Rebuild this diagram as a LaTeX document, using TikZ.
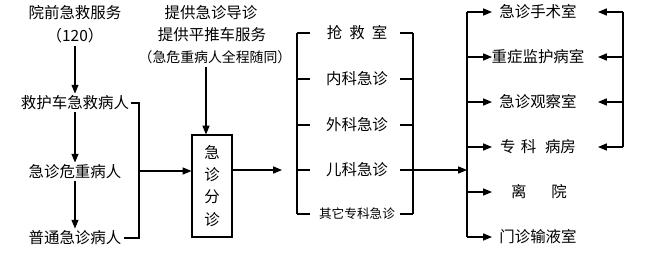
\documentclass[tikz,border=0pt]{standalone}
\usepackage{fontspec}
\newfontfamily\cjk{Noto Sans CJK SC}
\usepackage{tikz}
\usetikzlibrary{arrows.meta,positioning,calc}

\begin{document}
\begin{tikzpicture}[x=0.02cm,y=-0.02cm,line width=0.6pt,
  t/.style={font=\cjk\fontsize{8.8}{10}\selectfont,inner sep=1pt},
  ts/.style={font=\cjk\fontsize{7.2}{9}\selectfont,inner sep=1pt},
  box/.style={draw,minimum width=0.8cm,minimum height=2.04cm,align=center,
    font=\cjk\fontsize{8.8}{12.6}\selectfont},
  arr/.style={-{Triangle[length=5pt,width=4pt]}}]
\useasboundingbox (0,0) rectangle (650,271);
% pre-hospital column
\node[t] (qj) at (75,13) {院前急救服务};
\node[t] (n120) at (75,36) {（120）};
\node[t] (jhc) at (75,103) {救护车急救病人};
\node[t] (wz) at (75,172) {急诊危重病人};
\node[t] (pt) at (75,238) {普通急诊病人};
\draw[arr] (n120.south) -- (jhc.north);
\draw[arr] (jhc.south) -- (wz.north);
\draw[arr] (wz.south) -- (pt.north);
\coordinate (jn) at (139,171);
\draw (jhc.east) -- (jhc.east -| jn) -- (pt.east -| jn) -- (pt.east);
% triage
\node[t] (tg1) at (211,13) {提供急诊导诊};
\node[t] (tg2) at (212,35) {提供平推车服务};
\node[ts,font=\cjk\fontsize{7.9}{9}\selectfont] (tg3) at (215,57) {（急危重病人全程随同）};
\node[box] (fz) at (212,186) {急\\诊\\分\\诊};
\coordinate (a1) at (206,67);
\draw[arr] (a1) -- (a1 |- fz.north);
\draw[arr] (jn) -- (jn -| fz.west);
% departments
\node[t] (r1) at (357,33) {抢\hspace{4pt}救\hspace{4pt}室};
\node[t] (r2) at (357,79) {内科急诊};
\node[t] (r3) at (357,125) {外科急诊};
\node[t] (r4) at (357,170) {儿科急诊};
\node[ts] (r5) at (357,214) {其它专科急诊};
\coordinate (bl) at (297,33);
\coordinate (br) at (413,33);
\coordinate (bk) at (282,170);
\draw[arr] (fz.east |- bk) -- (bk);
\draw (r1 -| bl) -- (r5 -| bl);
\draw (r1 -| br) -- (r5 -| br);
\foreach \r in {r1,r2,r3,r4,r5} {
  \draw (\r -| bl) -- ++(13,0);
  \draw (\r -| br) -- ++(-13,0);
}
% destinations
\node[t] (d1) at (538,12) {急诊手术室};
\node[t] (d2) at (538,57) {重症监护病室};
\node[t] (d3) at (538,102) {急诊观察室};
\node[t] (d4) at (538,147) {专\hspace{3pt}科\hspace{5pt}病房};
\node[t] (d5) at (539,192) {离\hspace{14pt}院};
\node[t] (d6) at (538,237) {门诊输液室};
\coordinate (dl) at (467,170);
\draw[arr] (r4 -| br) -- (dl);
\draw (d1 -| dl) -- (d6 -| dl);
\foreach \d in {d1,d2,d3,d4,d5,d6}
  \draw[arr] (\d -| dl) -- ++(25,0);
\coordinate (fb) at (623,12);
\draw (d1 -| fb) -- (d4 -| fb);
\foreach \d in {d1,d2,d3,d4}
  \draw[arr] (\d -| fb) -- ++(-25,0);
\end{tikzpicture}
\end{document}
